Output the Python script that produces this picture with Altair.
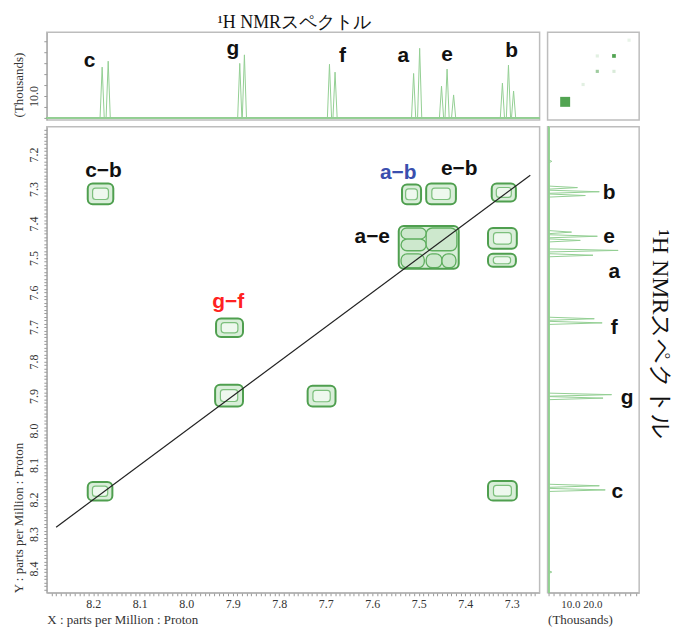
import altair as alt
import pandas as pd

# ---------------- data ----------------
# top projection (F2): line positions (ppm) and intensities (thousands)
top_ppm = [8.181, 8.168, 7.885, 7.875, 7.692, 7.680, 7.511, 7.498,
           7.451, 7.439, 7.425, 7.320, 7.307, 7.296]
top_int = [23.2, 25.9, 24.9, 28.8, 24.5, 20.9, 20.3, 31.8,
           14.5, 22.3, 10.5, 15.9, 24.1, 12.3]

# side projection (F1)
side_ppm = [7.220, 7.296, 7.308, 7.319, 7.425, 7.437, 7.449, 7.478, 7.492,
            7.676, 7.688, 7.896, 7.906, 8.160, 8.172, 8.410]
side_int = [1.5, 13.2, 23.2, 16.8, 10.5, 22.3, 14.5, 31.8, 20.3,
            20.9, 24.5, 28.8, 24.9, 23.2, 25.9, 1.5]

# cross peaks (contour extents, ppm)
cp_name = ["c-b", "g-f", "g-g", "f-g", "c-c", "b-c", "a-b", "e-b", "b-b",
           "ae-block", "b-e", "b-a"]
cp_x1 = [8.212, 7.936, 7.938, 7.739, 8.212, 7.351, 7.536, 7.484, 7.343,
         7.543, 7.351, 7.351]
cp_x2 = [8.157, 7.878, 7.878, 7.679, 8.159, 7.289, 7.495, 7.420, 7.291,
         7.414, 7.289, 7.291]
cp_y1 = [7.284, 7.675, 7.867, 7.870, 8.149, 8.146, 7.287, 7.284, 7.284,
         7.407, 7.413, 7.488]
cp_y2 = [7.344, 7.729, 7.930, 7.930, 8.203, 8.203, 7.344, 7.344, 7.336,
         7.531, 7.473, 7.525]

# sub-contours inside the a/e block
sub_x1 = [7.538, 7.538, 7.484, 7.538, 7.484, 7.450]
sub_x2 = [7.484, 7.484, 7.418, 7.488, 7.450, 7.420]
sub_y1 = [7.413, 7.445, 7.413, 7.488, 7.488, 7.488]
sub_y2 = [7.445, 7.479, 7.479, 7.528, 7.528, 7.528]

# diagonal
diag_ppm = [8.28, 7.26]

# annotations in the 2D plot
lab_text = ["c\u2212b", "g\u2212f", "a\u2212b", "e\u2212b", "a\u2212e"]
lab_x = [8.178, 7.910, 7.544, 7.413, 7.600]
lab_y = [7.249, 7.629, 7.255, 7.241, 7.439]
lab_col = ["#111111", "#ff2222", "#3a4fae", "#111111", "#111111"]

# projection labels
plab = ["c", "g", "f", "a", "e", "b"]
plab_top_x = [8.208, 7.900, 7.664, 7.533, 7.439, 7.300]
plab_top_y = [25.9, 31.4, 28.3, 28.2, 28.8, 30.6]
plab_side_x = [31.4, 35.9, 30.0, 30.0, 27.7, 27.7]
plab_side_y = [8.178, 7.905, 7.704, 7.540, 7.439, 7.313]

# overview thumbnail dots
ov_x = [19.2, 72.5, 54.3, 54.3, 72.5, 38.8, 89.0]
ov_y = [20.6, 73.0, 73.0, 55.4, 55.4, 40.4, 91.0]
ov_op = [0.9, 0.9, 0.15, 0.5, 0.2, 0.15, 0.12]
ov_size = [100, 14, 10, 10, 10, 10, 10]

# ---------------- build tables ----------------
HW = 0.0045  # drawing half-width of a line (ppm)
rows = []
for i, (p, h) in enumerate(zip(top_ppm, top_int)):
    rows += [dict(pk=i, o=0, x=p + HW, y=0), dict(pk=i, o=1, x=p, y=h),
             dict(pk=i, o=2, x=p - HW, y=0)]
top_df = pd.DataFrame(rows)
rows = []
for i, (p, h) in enumerate(zip(side_ppm, side_int)):
    rows += [dict(pk=i, o=0, y=p - HW, x=0), dict(pk=i, o=1, y=p, x=h),
             dict(pk=i, o=2, y=p + HW, x=0)]
side_df = pd.DataFrame(rows)

cp_df = pd.DataFrame(dict(name=cp_name, x1=cp_x1, x2=cp_x2, y1=cp_y1, y2=cp_y2))
inner = cp_df[cp_df.name != "ae-block"].copy()
cx = (inner.x1 + inner.x2) / 2
cy = (inner.y1 + inner.y2) / 2
inner["x1"] = cx + (inner.x1 - cx) * 0.62
inner["x2"] = cx + (inner.x2 - cx) * 0.62
inner["y1"] = cy + (inner.y1 - cy) * 0.55
inner["y2"] = cy + (inner.y2 - cy) * 0.55
sub_df = pd.DataFrame(dict(x1=sub_x1, x2=sub_x2, y1=sub_y1, y2=sub_y2))
diag_df = pd.DataFrame(dict(x=diag_ppm, y=diag_ppm))
lab_df = pd.DataFrame(dict(t=lab_text, x=lab_x, y=lab_y, c=lab_col))
ptop_df = pd.DataFrame(dict(t=plab, x=plab_top_x, y=plab_top_y))
pside_df = pd.DataFrame(dict(t=plab, x=plab_side_x, y=plab_side_y))
ov_df = pd.DataFrame(dict(x=ov_x, y=ov_y, op=ov_op, s=ov_size))

# ---------------- scales / axes ----------------
SERIF = "Liberation Serif"
SANS = "Liberation Sans"
W, H_TOP, H_MAIN, W_SIDE = 495, 88, 468, 92
xs = alt.Scale(domain=[7.24, 8.30], reverse=True, nice=False, zero=False)
ys = alt.Scale(domain=[7.12, 8.47], reverse=True, nice=False, zero=False)
top_ys = alt.Scale(domain=[-0.9, 39.1], nice=False, zero=False)
side_xs = alt.Scale(domain=[-0.45, 41.4], nice=False, zero=False)

test = "abs(datum.value*10 - round(datum.value*10)) < 0.001"
common = dict(labelFont=SERIF, labelFontSize=12, labelColor="#333",
              tickColor="#999", domainColor="#aaa", grid=False,
              titleFont=SERIF, titleFontSize=13, titleFontWeight="normal",
              titleColor="#333", labelOverlap=False, tickSize=3,
              tickCount=1000)

x_axis = alt.Axis(values=[round(7.25 + 0.01 * i, 2) for i in range(105)],
                  labelExpr=f"{test} ? format(datum.value, '.1f') : ''",
                  labelPadding=3, title="X : parts per Million : Proton",
                  titleX=0, titleAlign="left", titlePadding=4, **common)
y_axis = alt.Axis(values=[round(7.13 + 0.01 * i, 2) for i in range(134)],
                  labelExpr=f"{test} ? format(datum.value, '.1f') : ''",
                  labelAngle=270, labelAlign="center", labelBaseline="bottom",
                  labelPadding=3, minExtent=18, maxExtent=18,
                  title="Y : parts per Million : Proton", titleY=H_MAIN,
                  titleAlign="left", titleAngle=270, titlePadding=3, **common)
top_axis = alt.Axis(values=[0, 5, 10, 15, 20, 25, 30, 35],
                    labelExpr="datum.value == 10 ? '10.0' : ''",
                    labelAngle=270, labelAlign="center",
                    labelBaseline="bottom", labelPadding=3,
                    minExtent=18, maxExtent=18, title="(Thousands)",
                    titleY=H_TOP - 3, titleAlign="left", titleAngle=270,
                    titlePadding=3, **common)
side_common = dict(common, labelFontSize=11)
side_axis = alt.Axis(values=[2.5 * i for i in range(17)],
                     labelExpr="(datum.value == 10 || datum.value == 20) ? format(datum.value, '.1f') : ''",
                     labelPadding=3, title="(Thousands)",
                     titleX=0, titleAlign="left", titlePadding=4, **side_common)

GREEN_LINE = "#93cf93"

# ---------------- top projection ----------------
top_base = alt.Chart(top_df).mark_rule(color=GREEN_LINE, strokeWidth=1).encode(
    y=alt.datum(0, scale=top_ys))
top_line = alt.Chart(top_df).mark_line(color=GREEN_LINE, strokeWidth=1).encode(
    x=alt.X("x:Q", scale=xs, axis=None),
    y=alt.Y("y:Q", scale=top_ys, axis=top_axis),
    detail="pk:N", order="o:Q")
top_lab = alt.Chart(ptop_df).mark_text(font=SANS, fontWeight="bold", fontSize=21,
                                       color="#111", baseline="middle").encode(
    x=alt.X("x:Q", scale=xs), y=alt.Y("y:Q", scale=top_ys), text="t:N")
top = alt.layer(top_base, top_line, top_lab).properties(width=W, height=H_TOP)

# ---------------- overview thumbnail ----------------
corner = alt.Chart(ov_df).mark_square(color="#3f9a3f").encode(
    x=alt.X("x:Q", scale=alt.Scale(domain=[0, 100]), axis=None),
    y=alt.Y("y:Q", scale=alt.Scale(domain=[0, 100]), axis=None),
    opacity=alt.Opacity("op:Q", scale=None),
    size=alt.Size("s:Q", scale=None)).properties(width=W_SIDE, height=H_TOP)

# ---------------- 2D spectrum ----------------
enc_rect = dict(x=alt.X("x1:Q", scale=xs, axis=x_axis), x2="x2:Q",
                y=alt.Y("y1:Q", scale=ys, axis=y_axis), y2="y2:Q")
outer = alt.Chart(cp_df).mark_rect(cornerRadius=5, fill="#d9eed9",
                                   stroke="#4f9f4f", strokeWidth=2).encode(**enc_rect)
inner_l = alt.Chart(inner).mark_rect(cornerRadius=3, fill="#eef8ee",
                                     stroke="#7cbf7c", strokeWidth=1.2).encode(
    x=alt.X("x1:Q", scale=xs), x2="x2:Q", y=alt.Y("y1:Q", scale=ys), y2="y2:Q")
subs = alt.Chart(sub_df).mark_rect(cornerRadius=6, fill="#cde8cd",
                                   stroke="#5fae5f", strokeWidth=1.3).encode(
    x=alt.X("x1:Q", scale=xs), x2="x2:Q", y=alt.Y("y1:Q", scale=ys), y2="y2:Q")
diag = alt.Chart(diag_df).mark_line(color="#222", strokeWidth=1.2).encode(
    x=alt.X("x:Q", scale=xs), y=alt.Y("y:Q", scale=ys))
labs = alt.Chart(lab_df).mark_text(font=SANS, fontWeight="bold", fontSize=21,
                                   baseline="middle").encode(
    x=alt.X("x:Q", scale=xs), y=alt.Y("y:Q", scale=ys), text="t:N",
    color=alt.Color("c:N", scale=None))
main = alt.layer(outer, inner_l, subs, diag, labs).properties(width=W, height=H_MAIN)

# ---------------- side projection ----------------
side_base = alt.Chart(side_df).mark_rule(color=GREEN_LINE, strokeWidth=1).encode(
    x=alt.datum(0, scale=side_xs))
side_line = alt.Chart(side_df).mark_line(color=GREEN_LINE, strokeWidth=1).encode(
    x=alt.X("x:Q", scale=side_xs, axis=side_axis),
    y=alt.Y("y:Q", scale=ys,
            axis=alt.Axis(orient="right", title="\u00b9H NMRスペクトル",
                          labels=False, ticks=False, domain=False, grid=False,
                          titleFont=SERIF, titleFontSize=24, titleFontWeight="normal",
                          titleColor="#111", titleAngle=90, titlePadding=8,
                          titleY=208)),
    detail="pk:N", order="o:Q")
side_lab = alt.Chart(pside_df).mark_text(font=SANS, fontWeight="bold", fontSize=21,
                                         color="#111", baseline="middle").encode(
    x=alt.X("x:Q", scale=side_xs), y=alt.Y("y:Q", scale=ys), text="t:N")
side = alt.layer(side_base, side_line, side_lab).properties(width=W_SIDE, height=H_MAIN)

chart = alt.concat(top, corner, main, side, columns=2, spacing=4).properties(
    align="each",
    title=alt.TitleParams("\u00b9H NMRスペクトル", font=SERIF, fontSize=18,
                          fontWeight="normal", color="#111", anchor="middle",
                          dx=-48, offset=0),
    padding={"left": 4, "top": 4, "right": 2, "bottom": 0},
).configure_view(stroke="#bdbdbd", strokeWidth=1.5)

chart.save("out.html", embed_options={"renderer": "svg", "actions": False})
